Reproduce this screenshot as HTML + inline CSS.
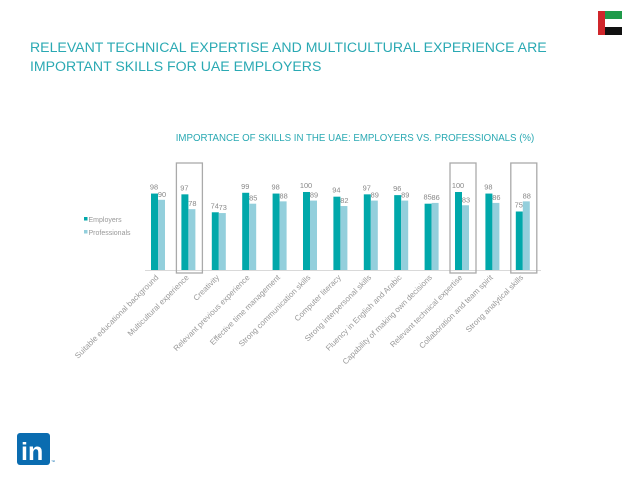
<!DOCTYPE html>
<html><head><meta charset="utf-8"><style>
body{margin:0;width:638px;height:479px;background:#fff;overflow:hidden;font-family:"Liberation Sans",sans-serif;position:relative}
.t{position:absolute;left:30px;top:38px;color:#2aa9b3;font-size:14.1px;line-height:19px;letter-spacing:0}
</style></head><body>
<div class="t">RELEVANT TECHNICAL EXPERTISE AND MULTICULTURAL EXPERIENCE ARE<br>IMPORTANT SKILLS FOR UAE EMPLOYERS</div>
<svg style="position:absolute;left:598px;top:11px" width="24" height="24">
<rect x="0" y="0" width="24" height="8" fill="#1f9a4a"/><rect x="0" y="8" width="24" height="8" fill="#fff"/><rect x="0" y="16" width="24" height="8" fill="#111"/><rect x="0" y="0" width="7" height="24" fill="#d0262b"/></svg>
<svg style="position:absolute;left:17px;top:433px" width="40" height="34">
<rect x="0" y="0" width="33" height="32" rx="3" fill="#0a6cb0"/>
<text x="4" y="27" font-family="Liberation Sans" font-weight="bold" font-size="25" fill="#fff">in</text>
<text x="34" y="30" font-size="4" fill="#0a6cb0">™</text></svg>
<svg id="chart" style="position:absolute;left:0;top:0" width="638" height="479"></svg>
<script>
const categories=["Suitable educational background","Multicultural experience","Creativity","Relevant previous experience","Effective time management","Strong communication skills","Computer literacy","Strong interpersonal skills","Fluency in English and Arabic","Capability of making own decisions","Relevant technical expertise","Collaboration and team spirit","Strong analytical skills"];
const employers=[98,97,74,99,98,100,94,97,96,85,100,98,75];
const professionals=[90,78,73,85,88,89,82,89,89,86,83,86,88];
const highlighted=[1,10,12];
const NS="http://www.w3.org/2000/svg";
const svg=document.getElementById('chart');
const base=270,scale=0.78,x0=151,step=30.4,bw=7;
const xE=i=>x0+i*step, yV=v=>base-v*scale;
function mk(t,a){const e=document.createElementNS(NS,t);for(const k in a)e.setAttribute(k,a[k]);svg.appendChild(e);return e;}
const st=mk('text',{x:355,y:141,'text-anchor':'middle','font-size':'9.7',fill:'#2aa9b3'});st.textContent="IMPORTANCE OF SKILLS IN THE UAE: EMPLOYERS VS. PROFESSIONALS (%)";


const ax=mk('line',{x1:145,x2:541,y1:base+0.5,y2:base+0.5,stroke:'#d9d9d9','stroke-width':1});


categories.forEach((c,i)=>{
 const x=xE(i);
 const r1=mk('rect',{x:x,y:yV(employers[i]),width:bw,height:employers[i]*scale,fill:'#00a8aa'});
 
 
 const r2=mk('rect',{x:x+bw,y:yV(professionals[i]),width:bw,height:professionals[i]*scale,fill:'#93cfdc'});
 
 
 const l1=mk('text',{x:x+3,y:yV(employers[i])-4,'text-anchor':'middle','font-size':'7.4',fill:'#888'});l1.textContent=employers[i];
 
 
 const l2=mk('text',{x:x+bw+4,y:yV(professionals[i])-3,'text-anchor':'middle','font-size':'7.4',fill:'#888'});l2.textContent=professionals[i];
 
 
 const cx=x+bw+1;
 const lb=mk('text',{x:cx,y:base+8,'text-anchor':'end','font-size':'7.9',fill:'#999',transform:`rotate(-45 ${cx} ${base+8})`});lb.textContent=c;
 
 
 if(highlighted.includes(i)){
  const b=mk('rect',{x:x-5,y:163,width:26,height:110,fill:'none',stroke:'#aaa','stroke-width':1.3});
  
  
 }
});
[['Employers','#00a8aa',222],['Professionals','#93cfdc',235]].forEach(([n,c,y])=>{
 const s=mk('rect',{x:84,y:y-5,width:3.5,height:3.5,fill:c});
 
 
 const t=mk('text',{x:88.5,y:y,'font-size':'7','fill':'#999'});t.textContent=n;
 
 
});
</script>
</body></html>
